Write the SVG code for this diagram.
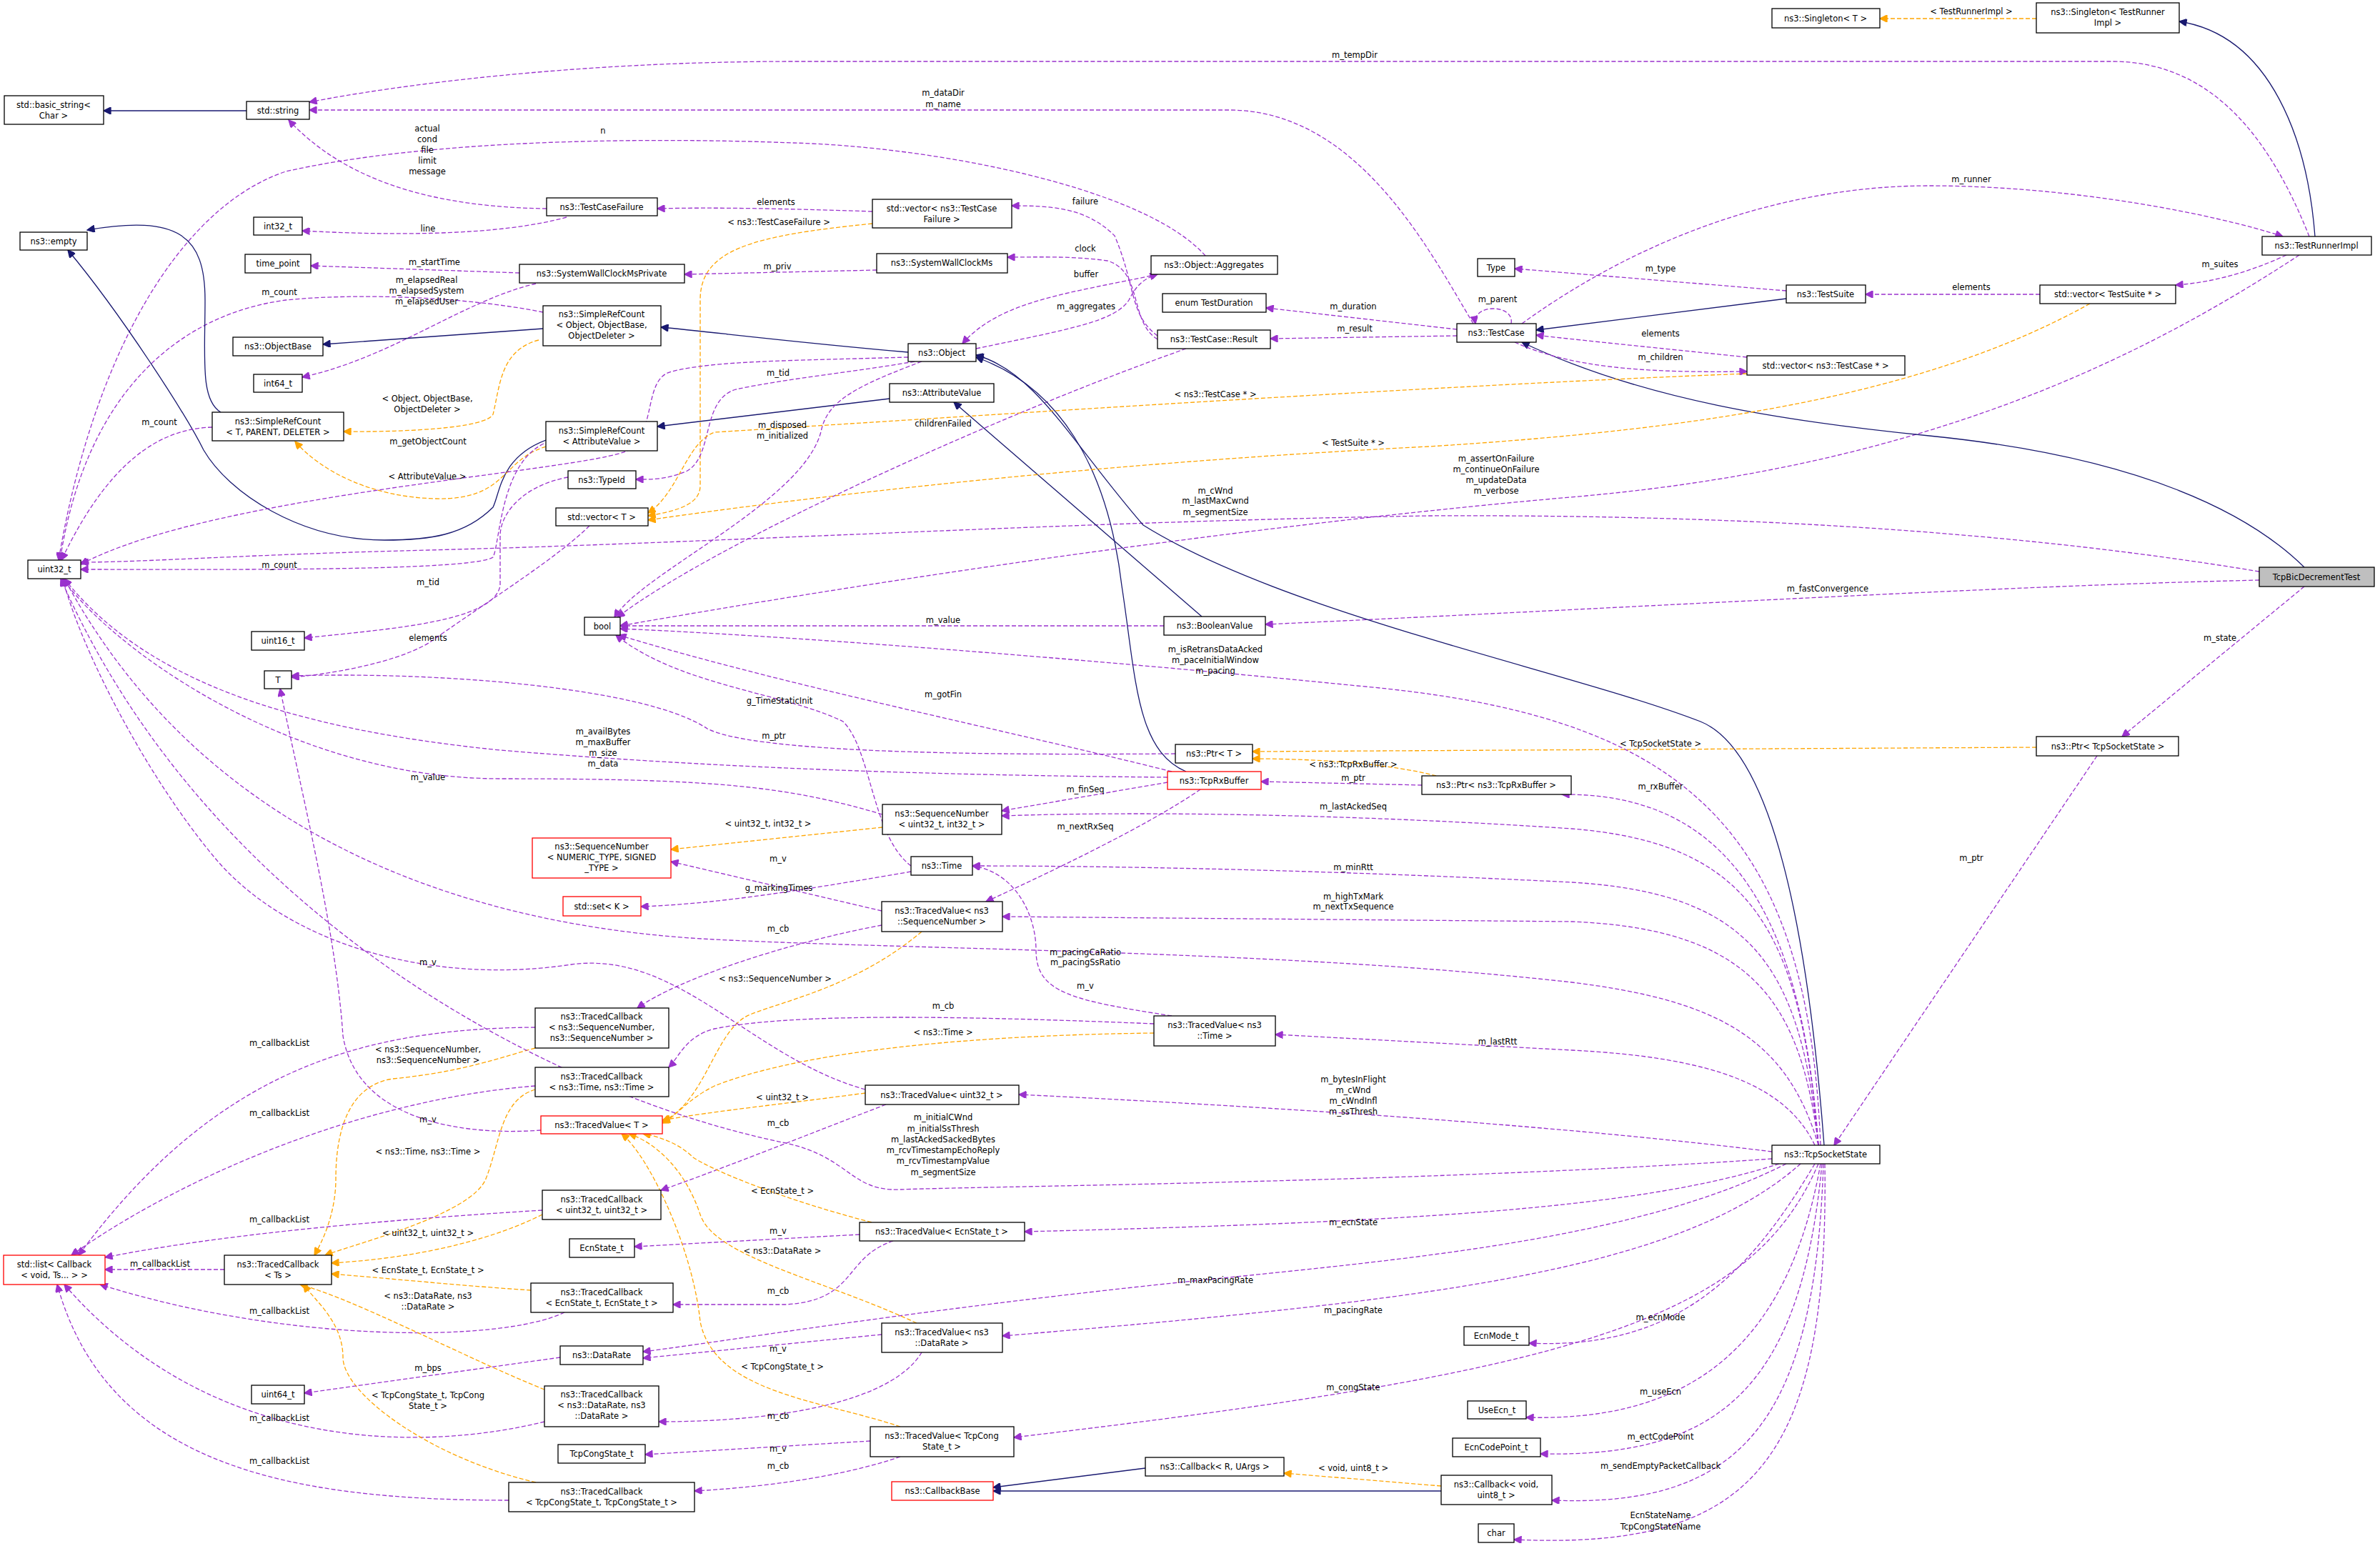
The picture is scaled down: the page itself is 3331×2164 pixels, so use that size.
<svg xmlns="http://www.w3.org/2000/svg" width="3331" height="2164" viewBox="0 0 3331 2164">
<style>
text{font-family:"DejaVu Sans","Liberation Sans",sans-serif;font-size:11.5px;fill:#000;text-anchor:middle}
rect{fill:#fff;stroke:#000;stroke-width:1.3}
rect.r{stroke:#ff0000}
rect.g{fill:#bfbfbf}
path{fill:none;stroke-width:1.3}
.p{stroke:#9a32cd;stroke-dasharray:6,3;marker-end:url(#mp)}
.o{stroke:#ffa500;stroke-dasharray:6,3;marker-end:url(#mo)}
.n{stroke:#191970;marker-end:url(#mn)}
</style>
<defs>
<marker id="mp" viewBox="0 0 10 10" refX="10" refY="5" markerUnits="userSpaceOnUse" markerWidth="13" markerHeight="10" orient="auto"><path d="M0,0 L10,5 L0,10 z" style="fill:#9a32cd;stroke:#9a32cd"/></marker>
<marker id="mo" viewBox="0 0 10 10" refX="10" refY="5" markerUnits="userSpaceOnUse" markerWidth="13" markerHeight="10" orient="auto"><path d="M0,0 L10,5 L0,10 z" style="fill:#ffa500;stroke:#ffa500"/></marker>
<marker id="mn" viewBox="0 0 10 10" refX="10" refY="5" markerUnits="userSpaceOnUse" markerWidth="13" markerHeight="10" orient="auto"><path d="M0,0 L10,5 L0,10 z" style="fill:#191970;stroke:#191970"/></marker>
</defs>
<rect x="0" y="0" width="3331" height="2164" style="fill:#fff;stroke:none"/>
<g id="edges">
<path class="n" d="M345,155 L145,155"/>
<path class="p" d="M3232,331 C3180,200 3100,86 2956,86 L1110,86 C800,86 550,120 433,143"/>
<path class="p" d="M2062,453 C2000,350 1900,154 1720,154 L433,154"/>
<path class="p" d="M1687,358 C1600,260 1300,205 1110,200 C900,192 600,195 400,240 C250,290 130,500 82,784"/>
<path class="p" d="M765,292 C600,290 480,250 404,168"/>
<path class="p" d="M793,304 C700,330 550,330 423,323"/>
<path class="p" d="M1221,296 C1100,292 1000,290 920,292"/>
<path class="o" d="M1221,313 C1050,330 980,350 980,420 L980,680 C980,705 950,715 907,722"/>
<path class="p" d="M727,382 L435,372"/>
<path class="p" d="M1227,378 L958,384"/>
<path class="p" d="M750,397 C650,420 550,500 423,528"/>
<path class="p" d="M760,437 C650,415 500,410 400,420 C250,440 120,550 84,784"/>
<path class="n" d="M760,460 L452,482"/>
<path class="o" d="M754,476 C700,490 700,540 690,580 C680,600 560,605 481,604"/>
<path class="n" d="M1271,493 C1100,478 1000,465 925,458"/>
<path class="n" d="M309,577 C280,560 287,500 287,420 C287,330 250,300 122,322"/>
<path class="n" d="M764,616 C700,640 700,690 690,710 C650,750 600,756 538,756 C420,756 320,690 285,630 C260,580 170,440 95,350"/>
<path class="n" d="M1245,558 L920,597"/>
<path class="o" d="M764,625 C700,645 710,700 610,698 C520,696 450,660 413,618"/>
<path class="p" d="M297,598 C220,600 150,650 86,784"/>
<path class="p" d="M761,621 C700,650 700,760 690,780 C660,800 300,797 113,797"/>
<path class="p" d="M1271,500 C1100,505 1000,505 940,520 C900,530 920,600 880,630 C820,660 300,690 113,790"/>
<path class="p" d="M1280,506 C1200,520 1100,530 1030,545 C980,560 1000,640 960,660 C930,672 910,671 890,671"/>
<path class="p" d="M795,668 C730,680 700,720 700,750 L700,820 C690,870 550,880 426,893"/>
<path class="p" d="M825,736 C780,780 700,830 600,900 C550,930 450,945 408,948"/>
<path class="p" d="M1275,1212 C1220,1170 1220,1050 1180,1010 C1100,970 950,960 862,889"/>
<path class="p" d="M1645,1055 C1300,1058 1050,1050 990,1020 C900,960 600,940 408,946"/>
<path class="p" d="M1634,1088 C1300,1085 1000,1075 700,1050 C400,1020 200,950 90,810"/>
<path class="p" d="M1235,1140 C1100,1100 1000,1090 700,1090 C400,1090 150,900 88,810"/>
<path class="p" d="M1640,1080 C1400,1020 1100,960 866,889"/>
<path class="p" d="M1290,506 C1200,540 1160,560 1150,600 C1130,700 900,800 860,864"/>
<path class="p" d="M1660,488 C1400,580 1000,760 864,864"/>
<path class="p" d="M3162,800 C2800,740 2400,720 2000,722 C1500,730 1000,760 600,770 C350,776 200,787 113,787"/>
<path class="p" d="M3218,357 C3000,500 2700,650 2220,694 C1800,730 1300,800 868,876"/>
<path class="p" d="M3162,812 C2800,820 2300,850 1771,874"/>
<path class="p" d="M1629,876 L868,876"/>
<path class="n" d="M1682,863 L1335,563"/>
<path class="p" d="M2548,1603 C2530,1150 2350,1000 1900,960 C1500,920 1100,890 868,880"/>
<path class="n" d="M3225,794 C3150,720 3000,640 2700,610 C2500,590 2300,560 2130,479"/>
<path class="n" d="M2553,1603 C2530,1300 2480,1050 2380,1010 C2200,940 1800,860 1600,735 C1500,620 1450,520 1366,497"/>
<path class="n" d="M1660,1080 C1590,1050 1590,950 1570,820 C1550,650 1480,540 1366,500"/>
<path class="n" d="M2500,418 L2150,462"/>
<path class="p" d="M2500,407 L2120,376"/>
<path class="p" d="M2039,461 L1772,431"/>
<path class="p" d="M2039,470 L1778,474"/>
<path class="p" d="M2115,453 C2120,425 2060,425 2065,453"/>
<path class="p" d="M2130,453 C2300,330 2500,260 2700,260 C2900,260 3100,300 3195,331"/>
<path class="p" d="M2445,500 C2300,485 2200,475 2150,469"/>
<path class="p" d="M2120,479 C2200,515 2300,522 2445,520"/>
<path class="o" d="M2445,523 C2000,540 1400,580 1000,605 C960,620 950,690 907,718"/>
<path class="o" d="M2925,425 C2700,550 2400,600 2000,625 C1500,650 1100,700 907,728"/>
<path class="p" d="M3200,357 C3150,380 3100,395 3045,399"/>
<path class="p" d="M2855,412 L2611,412"/>
<path class="o" d="M2850,26 L2631,26"/>
<path class="n" d="M3240,331 C3230,200 3180,50 3050,30"/>
<path class="p" d="M1620,470 C1580,440 1590,400 1560,330 C1520,290 1470,288 1416,288"/>
<path class="p" d="M1620,475 C1580,450 1600,380 1550,365 C1500,358 1450,360 1410,360"/>
<path class="p" d="M1620,384 C1500,410 1400,420 1347,481"/>
<path class="p" d="M1366,488 C1500,460 1560,450 1580,420 C1590,400 1600,390 1620,384"/>
<path class="p" d="M3225,821 L2970,1031"/>
<path class="p" d="M2935,1058 L2567,1603"/>
<path class="o" d="M2850,1046 L1753,1052"/>
<path class="o" d="M2010,1086 C1950,1070 1850,1062 1753,1062"/>
<path class="p" d="M1990,1099 L1765,1094"/>
<path class="p" d="M2545,1603 C2520,1250 2400,1110 2186,1112"/>
<path class="p" d="M1634,1095 L1402,1135"/>
<path class="p" d="M1680,1105 C1600,1160 1450,1230 1380,1262"/>
<path class="p" d="M2545,1603 C2520,1300 2450,1180 2200,1160 C1900,1140 1600,1135 1402,1142"/>
<path class="o" d="M1235,1158 L939,1189"/>
<path class="p" d="M1234,1275 L939,1206"/>
<path class="p" d="M1275,1220 C1100,1250 1000,1265 897,1269"/>
<path class="p" d="M2545,1603 C2520,1350 2450,1250 2200,1235 C1900,1220 1600,1212 1361,1212"/>
<path class="p" d="M2545,1603 C2520,1400 2450,1300 2200,1290 L1403,1283"/>
<path class="p" d="M1234,1295 C1100,1320 950,1370 892,1411"/>
<path class="o" d="M1290,1304 C1200,1380 1100,1400 1050,1420 C1000,1440 990,1540 927,1570"/>
<path class="p" d="M2545,1603 C2500,1450 2400,1400 2200,1375 C1800,1330 1300,1330 1000,1315 C700,1300 300,1200 90,810"/>
<path class="p" d="M1640,1422 C1500,1400 1450,1390 1450,1330 C1450,1280 1420,1220 1361,1212"/>
<path class="p" d="M1615,1433 C1300,1420 1100,1420 1000,1440 C960,1450 950,1480 936,1494"/>
<path class="o" d="M1615,1446 C1300,1450 1100,1480 1000,1520 C960,1540 950,1560 927,1572"/>
<path class="p" d="M2540,1603 C2500,1520 2400,1480 2200,1470 L1785,1448"/>
<path class="p" d="M1211,1525 C1050,1480 950,1330 800,1350 C600,1380 400,1320 300,1200 C200,1080 110,900 88,810"/>
<path class="p" d="M757,1582 C650,1590 500,1570 480,1450 C470,1300 420,1100 392,964"/>
<path class="o" d="M749,1525 C700,1540 700,1600 680,1650 C660,1700 500,1740 455,1757"/>
<path class="o" d="M749,1467 C700,1480 650,1500 550,1510 C480,1520 470,1600 470,1650 C470,1700 450,1740 440,1757"/>
<path class="p" d="M749,1438 C500,1440 300,1500 110,1757"/>
<path class="p" d="M749,1520 C500,1540 250,1650 100,1757"/>
<path class="p" d="M759,1694 C500,1710 300,1730 147,1760"/>
<path class="p" d="M314,1777 L147,1777"/>
<path class="p" d="M790,1837 C700,1880 400,1880 140,1798"/>
<path class="p" d="M762,1990 C600,2030 300,2040 90,1798"/>
<path class="p" d="M712,2100 C400,2100 150,2050 80,1798"/>
<path class="o" d="M759,1700 C700,1730 600,1760 464,1768"/>
<path class="o" d="M743,1806 C650,1800 550,1790 464,1783"/>
<path class="o" d="M762,1945 C650,1900 500,1820 420,1798"/>
<path class="o" d="M750,2075 C600,2040 480,1950 480,1900 C480,1850 440,1820 425,1798"/>
<path class="p" d="M784,1900 L426,1950"/>
<path class="p" d="M1240,1546 C1100,1600 1000,1640 925,1666"/>
<path class="o" d="M1211,1530 C1100,1545 1000,1555 927,1568"/>
<path class="p" d="M2480,1612 C2300,1590 2000,1560 1426,1532"/>
<path class="p" d="M2480,1622 C2000,1655 1400,1660 1260,1665 C1190,1668 1190,1620 1100,1600 C800,1540 300,1300 85,810"/>
<path class="o" d="M1220,1711 C1100,1680 1000,1640 970,1620 C950,1600 920,1590 900,1587"/>
<path class="p" d="M1203,1728 L888,1745"/>
<path class="p" d="M1250,1737 C1180,1760 1200,1820 1100,1826 L942,1826"/>
<path class="o" d="M1283,1852 C1150,1790 1000,1760 980,1700 C960,1640 920,1600 880,1587"/>
<path class="p" d="M2490,1629 C2300,1690 2000,1710 1434,1724"/>
<path class="p" d="M2500,1629 C2300,1730 2000,1760 1700,1790 C1300,1830 1000,1880 900,1892"/>
<path class="p" d="M2520,1629 C2350,1780 2000,1820 1403,1870"/>
<path class="p" d="M1234,1868 L900,1901"/>
<path class="p" d="M1290,1893 C1250,1960 1100,1990 922,1990"/>
<path class="o" d="M1260,1997 C1150,1960 1000,1950 980,1850 C970,1750 910,1620 870,1587"/>
<path class="p" d="M1218,2017 L903,2036"/>
<path class="p" d="M1260,2039 C1200,2060 1100,2080 972,2087"/>
<path class="p" d="M2540,1629 C2450,1780 2350,1890 2140,1880"/>
<path class="p" d="M2545,1629 C2450,1850 2200,1920 1419,2012"/>
<path class="p" d="M2548,1629 C2500,1900 2350,1990 2136,1984"/>
<path class="p" d="M2550,1629 C2520,1950 2400,2040 2156,2035"/>
<path class="p" d="M2552,1629 C2540,2000 2430,2110 2172,2100"/>
<path class="p" d="M2554,1629 C2560,2050 2450,2170 2119,2155"/>
<path class="n" d="M1603,2055 L1390,2082"/>
<path class="n" d="M2017,2087 L1390,2087"/>
<path class="o" d="M2017,2080 L1797,2062"/>
</g>
<g id="labels">
<text x="1896" y="81">m_tempDir</text>
<text x="1320" y="134">m_dataDir</text><text x="1320" y="150">m_name</text>
<text x="844" y="187">n</text>
<text x="598" y="184">actual</text><text x="598" y="199">cond</text><text x="598" y="214">file</text><text x="598" y="229">limit</text><text x="598" y="244">message</text>
<text x="599" y="324">line</text>
<text x="1086" y="287">elements</text>
<text x="1090" y="315">&lt; ns3::TestCaseFailure &gt;</text>
<text x="608" y="371">m_startTime</text>
<text x="1088" y="377">m_priv</text>
<text x="597" y="396">m_elapsedReal</text><text x="597" y="411">m_elapsedSystem</text><text x="597" y="426">m_elapsedUser</text>
<text x="391" y="413">m_count</text>
<text x="598" y="562">&lt; Object, ObjectBase,</text><text x="598" y="577">ObjectDeleter &gt;</text>
<text x="1089" y="526">m_tid</text>
<text x="223" y="595">m_count</text>
<text x="1095" y="599">m_disposed</text><text x="1095" y="614">m_initialized</text>
<text x="1320" y="597">childrenFailed</text>
<text x="599" y="622">m_getObjectCount</text>
<text x="598" y="671">&lt; AttributeValue &gt;</text>
<text x="1701" y="556">&lt; ns3::TestCase * &gt;</text>
<text x="1894" y="624">&lt; TestSuite * &gt;</text>
<text x="2094" y="646">m_assertOnFailure</text><text x="2094" y="661">m_continueOnFailure</text><text x="2094" y="676">m_updateData</text><text x="2094" y="691">m_verbose</text>
<text x="1701" y="691">m_cWnd</text><text x="1701" y="705">m_lastMaxCwnd</text><text x="1701" y="721">m_segmentSize</text>
<text x="391" y="795">m_count</text>
<text x="599" y="819">m_tid</text>
<text x="599" y="897">elements</text>
<text x="1320" y="872">m_value</text>
<text x="2558" y="828">m_fastConvergence</text>
<text x="1701" y="913">m_isRetransDataAcked</text><text x="1701" y="928">m_paceInitialWindow</text><text x="1701" y="943">m_pacing</text>
<text x="1320" y="976">m_gotFin</text>
<text x="1091" y="985">g_TimeStaticInit</text>
<text x="1083" y="1034">m_ptr</text>
<text x="844" y="1028">m_availBytes</text><text x="844" y="1043">m_maxBuffer</text><text x="844" y="1058">m_size</text><text x="844" y="1073">m_data</text>
<text x="599" y="1092">m_value</text>
<text x="1519" y="286">failure</text>
<text x="1519" y="352">clock</text>
<text x="1520" y="388">buffer</text>
<text x="1520" y="433">m_aggregates</text>
<text x="1894" y="433">m_duration</text>
<text x="1896" y="464">m_result</text>
<text x="2096" y="423">m_parent</text>
<text x="2324" y="380">m_type</text>
<text x="2759" y="255">m_runner</text>
<text x="2324" y="471">elements</text>
<text x="2324" y="504">m_children</text>
<text x="3107" y="374">m_suites</text>
<text x="2759" y="406">elements</text>
<text x="2759" y="20">&lt; TestRunnerImpl &gt;</text>
<text x="3107" y="897">m_state</text>
<text x="2759" y="1205">m_ptr</text>
<text x="2324" y="1045">&lt; TcpSocketState &gt;</text>
<text x="1894" y="1074">&lt; ns3::TcpRxBuffer &gt;</text>
<text x="1894" y="1093">m_ptr</text>
<text x="2324" y="1105">m_rxBuffer</text>
<text x="1519" y="1109">m_finSeq</text>
<text x="1894" y="1133">m_lastAckedSeq</text>
<text x="1075" y="1157">&lt; uint32_t, int32_t &gt;</text>
<text x="1519" y="1161">m_nextRxSeq</text>
<text x="1089" y="1206">m_v</text>
<text x="1894" y="1218">m_minRtt</text>
<text x="1090" y="1247">g_markingTimes</text>
<text x="1894" y="1259">m_highTxMark</text><text x="1894" y="1273">m_nextTxSequence</text>
<text x="1089" y="1304">m_cb</text>
<text x="1519" y="1337">m_pacingCaRatio</text><text x="1519" y="1351">m_pacingSsRatio</text>
<text x="599" y="1351">m_v</text>
<text x="1085" y="1374">&lt; ns3::SequenceNumber &gt;</text>
<text x="1519" y="1384">m_v</text>
<text x="1320" y="1412">m_cb</text>
<text x="1320" y="1449">&lt; ns3::Time &gt;</text>
<text x="2096" y="1462">m_lastRtt</text>
<text x="391" y="1464">m_callbackList</text>
<text x="599" y="1473">&lt; ns3::SequenceNumber,</text><text x="599" y="1488">ns3::SequenceNumber &gt;</text>
<text x="1894" y="1515">m_bytesInFlight</text><text x="1894" y="1530">m_cWnd</text><text x="1894" y="1545">m_cWndInfl</text><text x="1894" y="1560">m_ssThresh</text>
<text x="1095" y="1540">&lt; uint32_t &gt;</text>
<text x="391" y="1562">m_callbackList</text>
<text x="599" y="1571">m_v</text>
<text x="1089" y="1576">m_cb</text>
<text x="1320" y="1568">m_initialCWnd</text><text x="1320" y="1584">m_initialSsThresh</text><text x="1320" y="1599">m_lastAckedSackedBytes</text><text x="1320" y="1614">m_rcvTimestampEchoReply</text><text x="1320" y="1629">m_rcvTimestampValue</text><text x="1320" y="1645">m_segmentSize</text>
<text x="599" y="1616">&lt; ns3::Time, ns3::Time &gt;</text>
<text x="1095" y="1671">&lt; EcnState_t &gt;</text>
<text x="391" y="1711">m_callbackList</text>
<text x="1894" y="1715">m_ecnState</text>
<text x="1089" y="1727">m_v</text>
<text x="599" y="1730">&lt; uint32_t, uint32_t &gt;</text>
<text x="1095" y="1755">&lt; ns3::DataRate &gt;</text>
<text x="224" y="1773">m_callbackList</text>
<text x="599" y="1782">&lt; EcnState_t, EcnState_t &gt;</text>
<text x="1701" y="1796">m_maxPacingRate</text>
<text x="1089" y="1811">m_cb</text>
<text x="599" y="1818">&lt; ns3::DataRate, ns3</text><text x="599" y="1833">::DataRate &gt;</text>
<text x="391" y="1839">m_callbackList</text>
<text x="1894" y="1838">m_pacingRate</text>
<text x="2324" y="1848">m_ecnMode</text>
<text x="1089" y="1892">m_v</text>
<text x="1095" y="1917">&lt; TcpCongState_t &gt;</text>
<text x="599" y="1919">m_bps</text>
<text x="1894" y="1946">m_congState</text>
<text x="2324" y="1952">m_useEcn</text>
<text x="599" y="1957">&lt; TcpCongState_t, TcpCong</text><text x="599" y="1972">State_t &gt;</text>
<text x="1089" y="1986">m_cb</text>
<text x="391" y="1989">m_callbackList</text>
<text x="2324" y="2015">m_ectCodePoint</text>
<text x="1089" y="2032">m_v</text>
<text x="391" y="2049">m_callbackList</text>
<text x="1089" y="2056">m_cb</text>
<text x="2324" y="2056">m_sendEmptyPacketCallback</text>
<text x="1894" y="2059">&lt; void, uint8_t &gt;</text>
<text x="2324" y="2125">EcnStateName</text><text x="2324" y="2141">TcpCongStateName</text>
</g>
<g id="n_basic"><rect x="6" y="134" width="139" height="40"/><text x="75" y="151">std::basic_string&lt;</text><text x="75" y="166">Char &gt;</text></g>
<g id="n_string"><rect x="345" y="142" width="88" height="25"/><text x="389" y="159">std::string</text></g>
<g id="n_empty"><rect x="28" y="325" width="94" height="25"/><text x="75" y="342">ns3::empty</text></g>
<g id="n_int32"><rect x="355" y="304" width="68" height="25"/><text x="389" y="321">int32_t</text></g>
<g id="n_time_point"><rect x="343" y="356" width="92" height="26"/><text x="389" y="373">time_point</text></g>
<g id="n_tcf"><rect x="765" y="277" width="155" height="25"/><text x="842" y="294">ns3::TestCaseFailure</text></g>
<g id="n_swcmp"><rect x="727" y="370" width="231" height="26"/><text x="842" y="387">ns3::SystemWallClockMsPrivate</text></g>
<g id="n_src_obj"><rect x="760" y="428" width="165" height="56"/><text x="842" y="444">ns3::SimpleRefCount</text><text x="842" y="459">&lt; Object, ObjectBase,</text><text x="842" y="474">ObjectDeleter &gt;</text></g>
<g id="n_objbase"><rect x="326" y="472" width="126" height="26"/><text x="389" y="489">ns3::ObjectBase</text></g>
<g id="n_int64"><rect x="355" y="524" width="68" height="25"/><text x="389" y="541">int64_t</text></g>
<g id="n_src_t"><rect x="297" y="577" width="184" height="40"/><text x="389" y="594">ns3::SimpleRefCount</text><text x="389" y="609">&lt; T, PARENT, DELETER &gt;</text></g>
<g id="n_src_av"><rect x="764" y="590" width="156" height="41"/><text x="842" y="607">ns3::SimpleRefCount</text><text x="842" y="622">&lt; AttributeValue &gt;</text></g>
<g id="n_typeid"><rect x="795" y="659" width="95" height="25"/><text x="842" y="676">ns3::TypeId</text></g>
<g id="n_vec_t"><rect x="778" y="711" width="129" height="25"/><text x="842" y="728">std::vector&lt; T &gt;</text></g>
<g id="n_uint32"><rect x="39" y="784" width="74" height="26"/><text x="76" y="801">uint32_t</text></g>
<g id="n_uint16"><rect x="352" y="884" width="74" height="26"/><text x="389" y="901">uint16_t</text></g>
<g id="n_bool"><rect x="818" y="864" width="50" height="25"/><text x="843" y="881">bool</text></g>
<g id="n_T"><rect x="370" y="939" width="38" height="25"/><text x="389" y="956">T</text></g>
<g id="n_vec_tcf"><rect x="1221" y="279" width="195" height="40"/><text x="1318" y="296">std::vector&lt; ns3::TestCase</text><text x="1318" y="311">Failure &gt;</text></g>
<g id="n_swcm"><rect x="1227" y="355" width="183" height="27"/><text x="1318" y="372">ns3::SystemWallClockMs</text></g>
<g id="n_aggr"><rect x="1611" y="358" width="177" height="26"/><text x="1699" y="375">ns3::Object::Aggregates</text></g>
<g id="n_dur"><rect x="1627" y="411" width="145" height="26"/><text x="1699" y="428">enum TestDuration</text></g>
<g id="n_result"><rect x="1620" y="462" width="158" height="26"/><text x="1699" y="479">ns3::TestCase::Result</text></g>
<g id="n_object"><rect x="1271" y="481" width="95" height="25"/><text x="1318" y="498">ns3::Object</text></g>
<g id="n_attr"><rect x="1245" y="537" width="146" height="26"/><text x="1318" y="554">ns3::AttributeValue</text></g>
<g id="n_testcase"><rect x="2039" y="453" width="111" height="26"/><text x="2094" y="470">ns3::TestCase</text></g>
<g id="n_type"><rect x="2068" y="362" width="52" height="25"/><text x="2094" y="379">Type</text></g>
<g id="n_boolval"><rect x="1629" y="863" width="142" height="26"/><text x="1700" y="880">ns3::BooleanValue</text></g>
<g id="n_ptr_t"><rect x="1645" y="1042" width="108" height="26"/><text x="1699" y="1059">ns3::Ptr&lt; T &gt;</text></g>
<g id="n_singleton_t"><rect x="2480" y="12" width="151" height="27"/><text x="2555" y="30">ns3::Singleton&lt; T &gt;</text></g>
<g id="n_singleton_tr"><rect x="2850" y="4" width="200" height="42"/><text x="2950" y="21">ns3::Singleton&lt; TestRunner</text><text x="2950" y="36">Impl &gt;</text></g>
<g id="n_runner"><rect x="3166" y="331" width="153" height="26"/><text x="3242" y="348">ns3::TestRunnerImpl</text></g>
<g id="n_suite"><rect x="2500" y="399" width="111" height="25"/><text x="2555" y="416">ns3::TestSuite</text></g>
<g id="n_vec_suite"><rect x="2855" y="399" width="190" height="26"/><text x="2950" y="416">std::vector&lt; TestSuite * &gt;</text></g>
<g id="n_vec_tc"><rect x="2445" y="498" width="221" height="27"/><text x="2555" y="516">std::vector&lt; ns3::TestCase * &gt;</text></g>
<g id="n_bic"><rect class="g" x="3162" y="794" width="161" height="27"/><text x="3242" y="812">TcpBicDecrementTest</text></g>
<g id="n_ptr_tss"><rect x="2850" y="1031" width="199" height="27"/><text x="2950" y="1049">ns3::Ptr&lt; TcpSocketState &gt;</text></g>
<g id="n_seqnum_gen"><rect class="r" x="745" y="1173" width="194" height="56"/><text x="842" y="1189">ns3::SequenceNumber</text><text x="842" y="1204">&lt; NUMERIC_TYPE, SIGNED</text><text x="842" y="1219">_TYPE &gt;</text></g>
<g id="n_set"><rect class="r" x="788" y="1255" width="109" height="27"/><text x="842" y="1273">std::set&lt; K &gt;</text></g>
<g id="n_tc_seq"><rect x="749" y="1411" width="187" height="56"/><text x="842" y="1427">ns3::TracedCallback</text><text x="842" y="1442">&lt; ns3::SequenceNumber,</text><text x="842" y="1457">ns3::SequenceNumber &gt;</text></g>
<g id="n_tc_time"><rect x="749" y="1494" width="187" height="41"/><text x="842" y="1511">ns3::TracedCallback</text><text x="842" y="1526">&lt; ns3::Time, ns3::Time &gt;</text></g>
<g id="n_tv_t"><rect class="r" x="757" y="1562" width="170" height="25"/><text x="842" y="1579">ns3::TracedValue&lt; T &gt;</text></g>
<g id="n_tc_u32"><rect x="759" y="1666" width="166" height="41"/><text x="842" y="1683">ns3::TracedCallback</text><text x="842" y="1698">&lt; uint32_t, uint32_t &gt;</text></g>
<g id="n_ecnstate"><rect x="797" y="1734" width="91" height="26"/><text x="842" y="1751">EcnState_t</text></g>
<g id="n_list"><rect class="r" x="5" y="1757" width="142" height="41"/><text x="76" y="1774">std::list&lt; Callback</text><text x="76" y="1789">&lt; void, Ts... &gt; &gt;</text></g>
<g id="n_tc_ts"><rect x="314" y="1757" width="150" height="41"/><text x="389" y="1774">ns3::TracedCallback</text><text x="389" y="1789">&lt; Ts &gt;</text></g>
<g id="n_tc_ecn"><rect x="743" y="1796" width="199" height="41"/><text x="842" y="1813">ns3::TracedCallback</text><text x="842" y="1828">&lt; EcnState_t, EcnState_t &gt;</text></g>
<g id="n_datarate"><rect x="784" y="1884" width="116" height="26"/><text x="842" y="1901">ns3::DataRate</text></g>
<g id="n_uint64"><rect x="352" y="1939" width="74" height="26"/><text x="389" y="1956">uint64_t</text></g>
<g id="n_tc_dr"><rect x="762" y="1940" width="160" height="57"/><text x="842" y="1956">ns3::TracedCallback</text><text x="842" y="1971">&lt; ns3::DataRate, ns3</text><text x="842" y="1986">::DataRate &gt;</text></g>
<g id="n_congstate"><rect x="781" y="2022" width="122" height="26"/><text x="842" y="2039">TcpCongState_t</text></g>
<g id="n_tc_cong"><rect x="712" y="2075" width="260" height="41"/><text x="842" y="2092">ns3::TracedCallback</text><text x="842" y="2107">&lt; TcpCongState_t, TcpCongState_t &gt;</text></g>
<g id="n_rxbuf"><rect class="r" x="1634" y="1080" width="131" height="25"/><text x="1699" y="1097">ns3::TcpRxBuffer</text></g>
<g id="n_ptr_rx"><rect x="1990" y="1086" width="209" height="26"/><text x="2094" y="1103">ns3::Ptr&lt; ns3::TcpRxBuffer &gt;</text></g>
<g id="n_seq_u32"><rect x="1235" y="1126" width="167" height="42"/><text x="1318" y="1143">ns3::SequenceNumber</text><text x="1318" y="1158">&lt; uint32_t, int32_t &gt;</text></g>
<g id="n_time"><rect x="1275" y="1199" width="86" height="26"/><text x="1318" y="1216">ns3::Time</text></g>
<g id="n_tv_seq"><rect x="1234" y="1262" width="169" height="42"/><text x="1318" y="1279">ns3::TracedValue&lt; ns3</text><text x="1318" y="1294">::SequenceNumber &gt;</text></g>
<g id="n_tv_time"><rect x="1615" y="1422" width="170" height="42"/><text x="1700" y="1439">ns3::TracedValue&lt; ns3</text><text x="1700" y="1454">::Time &gt;</text></g>
<g id="n_tv_u32"><rect x="1211" y="1519" width="215" height="27"/><text x="1318" y="1537">ns3::TracedValue&lt; uint32_t &gt;</text></g>
<g id="n_tv_ecn"><rect x="1203" y="1711" width="231" height="26"/><text x="1318" y="1728">ns3::TracedValue&lt; EcnState_t &gt;</text></g>
<g id="n_tv_dr"><rect x="1234" y="1852" width="169" height="41"/><text x="1318" y="1869">ns3::TracedValue&lt; ns3</text><text x="1318" y="1884">::DataRate &gt;</text></g>
<g id="n_ecnmode"><rect x="2049" y="1857" width="91" height="26"/><text x="2094" y="1874">EcnMode_t</text></g>
<g id="n_tv_cong"><rect x="1218" y="1997" width="201" height="42"/><text x="1318" y="2014">ns3::TracedValue&lt; TcpCong</text><text x="1318" y="2029">State_t &gt;</text></g>
<g id="n_useecn"><rect x="2054" y="1961" width="82" height="25"/><text x="2095" y="1978">UseEcn_t</text></g>
<g id="n_ecncp"><rect x="2033" y="2013" width="123" height="26"/><text x="2094" y="2030">EcnCodePoint_t</text></g>
<g id="n_cb_r"><rect x="1603" y="2040" width="194" height="26"/><text x="1700" y="2057">ns3::Callback&lt; R, UArgs &gt;</text></g>
<g id="n_cbbase"><rect class="r" x="1248" y="2074" width="142" height="26"/><text x="1319" y="2091">ns3::CallbackBase</text></g>
<g id="n_cb_void"><rect x="2017" y="2065" width="155" height="41"/><text x="2094" y="2082">ns3::Callback&lt; void,</text><text x="2094" y="2097">uint8_t &gt;</text></g>
<g id="n_char"><rect x="2069" y="2133" width="50" height="26"/><text x="2094" y="2150">char</text></g>
<g id="n_tss"><rect x="2480" y="1603" width="151" height="26"/><text x="2555" y="1620">ns3::TcpSocketState</text></g>
</svg>
